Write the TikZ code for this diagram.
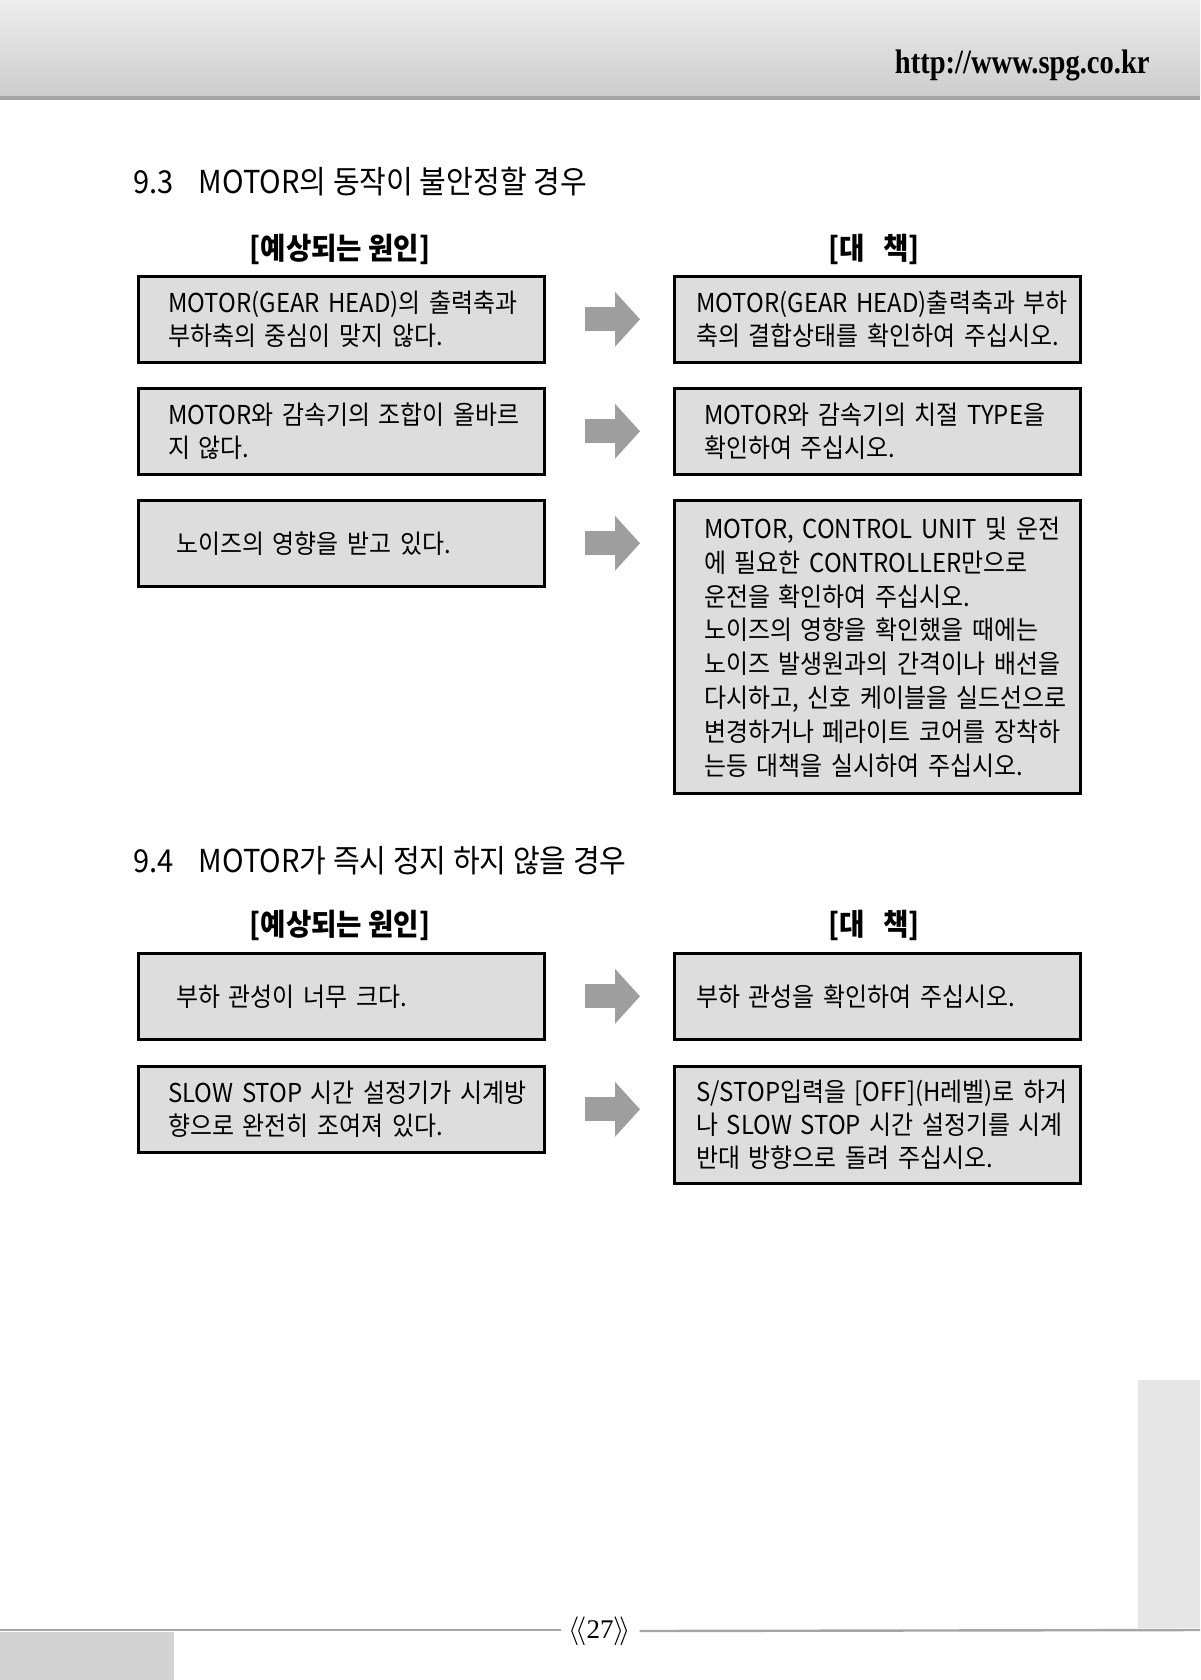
\documentclass[tikz,border=0pt]{standalone}
\usepackage{fontspec}
\setmainfont{Noto Sans CJK KR}[FakeStretch=0.92]
\newfontfamily\urlfont{Liberation Serif}[FakeStretch=0.84]
\newfontfamily\pagefont{Liberation Serif}
\usetikzlibrary{arrows.meta, positioning, calc}
\definecolor{boxgray}{RGB}{221,221,221}
\definecolor{arrgray}{RGB}{158,158,158}
\definecolor{hdtop}{RGB}{237,237,237}
\definecolor{hdbot}{RGB}{205,205,205}
\definecolor{hdline}{RGB}{165,165,165}
\definecolor{tabgray}{RGB}{230,230,230}
\definecolor{blockgray}{RGB}{211,211,211}
% lines of a box, set flush left and never re-broken
\newcommand\boxtext[2]{\makebox[#1][l]{\raisebox{-1.6pt}[\height][\depth]{\spaceskip=0.33em\relax\begin{tabular}{@{}l@{}}#2\end{tabular}}}}
\tikzset{
  every node/.style={font=\fontsize{13pt}{16.5pt}\selectfont, inner sep=0pt},
  box/.style={
    draw=black, line width=1.3pt, fill=boxgray, anchor=north west,
    minimum height=43pt, inner ysep=0pt
  },
  padA/.style={inner xsep=15pt},
  padB/.style={inner xsep=11pt},
  padC/.style={inner xsep=19pt},
  heading/.style={anchor=base west, font=\fontsize{15.8pt}{19pt}\selectfont},
  colhead/.style={font=\fontsize{15pt}{18pt}\selectfont\bfseries},
  bigarr/.style={-{Triangle[length=12.5pt,width=27.5pt,line width=0pt]},
    line width=12pt, draw=arrgray, shorten <=19.5pt, shorten >=16.5pt},
  footline/.style={draw=hdline, line width=1.2pt},
}

\begin{document}
\begin{tikzpicture}[x=0.5pt, y=-0.5pt]
    \useasboundingbox (0,0) rectangle (1200,1680);
    % page frame
    \shade[top color=hdtop, bottom color=hdbot] (0,0) rectangle (1200,96);
    \fill[hdline] (0,96) rectangle (1200,100);
    \node[anchor=base east, font=\urlfont\bfseries\fontsize{17pt}{20pt}\selectfont] (url) at (1150,74) {http://www.spg.co.kr};
    \fill[tabgray] (1138,1380) rectangle (1200,1628);
    \fill[blockgray] (0,1632) rectangle (174,1680);

    % 9.3
    \node[heading] (h93) at (133,194) {9.3\hspace{12.5pt}MOTOR의 동작이 불안정할 경우};
    \node[colhead] (cause93) at (340,249) {[예상되는 원인]};
    \node[colhead] (fix93) at (874,249) {[대\hspace{9pt}책]};

    \node[box, padA] (c1) at (137,275) {\boxtext{173pt}{MOTOR(GEAR HEAD)의 출력축과\\부하축의 중심이 맞지 않다.}};
    \node[box, padB] (f1) at (673,275) {\boxtext{181pt}{MOTOR(GEAR HEAD)출력축과 부하\\축의 결합상태를 확인하여 주십시오.}};
    \node[box, padA] (c2) at (137,387) {\boxtext{173pt}{MOTOR와 감속기의 조합이 올바르\\지 않다.}};
    \node[box, padA] (f2) at (673,387) {\boxtext{173pt}{MOTOR와 감속기의 치절 TYPE을\\확인하여 주십시오.}};
    \node[box, padC] (c3) at (137,499) {\boxtext{165pt}{노이즈의 영향을 받고 있다.}};
    \node[box, padA, minimum height=146.5pt, font=\fontsize{13pt}{16.9pt}\selectfont] (f3) at (673,499) {\boxtext{173pt}{MOTOR, CONTROL UNIT 및 운전\\에 필요한 CONTROLLER만으로\\운전을 확인하여 주십시오.\\노이즈의 영향을 확인했을 때에는\\노이즈 발생원과의 간격이나 배선을\\다시하고, 신호 케이블을 실드선으로\\변경하거나 페라이트 코어를 장착하\\는등 대책을 실시하여 주십시오.}};

    \draw[bigarr] (c1.east) -- (c1.east -| f1.west);
    \draw[bigarr] (c2.east) -- (c2.east -| f2.west);
    \draw[bigarr] (c3.east) -- (c3.east -| f3.west);

    % 9.4
    \node[heading] (h94) at (133,872) {9.4\hspace{12.5pt}MOTOR가 즉시 정지 하지 않을 경우};
    \node[colhead] (cause94) at (340,925) {[예상되는 원인]};
    \node[colhead] (fix94) at (874,925) {[대\hspace{9pt}책]};

    \node[box, padC] (c4) at (137,952) {\boxtext{165pt}{부하 관성이 너무 크다.}};
    \node[box, padB] (f4) at (673,952) {\boxtext{181pt}{부하 관성을 확인하여 주십시오.}};
    \node[box, padA] (c5) at (137,1065) {\boxtext{173pt}{SLOW STOP 시간 설정기가 시계방\\향으로 완전히 조여져 있다.}};
    \node[box, padB, minimum height=58.5pt] (f5) at (673,1065) {\boxtext{181pt}{S/STOP입력을 [OFF](H레벨)로 하거\\나 SLOW STOP 시간 설정기를 시계\\반대 방향으로 돌려 주십시오.}};

    \draw[bigarr] (c4.east) -- (c4.east -| f4.west);
    \draw[bigarr] (c5.east) -- (c5.east -| f5.west);

    % page number
    \node[inner xsep=4pt, font=\pagefont\fontsize{13.5pt}{16pt}\selectfont] (pg) at (600,1631) {$\langle\!\langle$27$\rangle\!\rangle$};
    \coordinate (fl) at (0,1630);
    \coordinate (fr) at (1200,1630);
    \draw[footline] (fl) -- (fl -| pg.west);
    \draw[footline] (pg.east) -- (fr);
\end{tikzpicture}
\end{document}
